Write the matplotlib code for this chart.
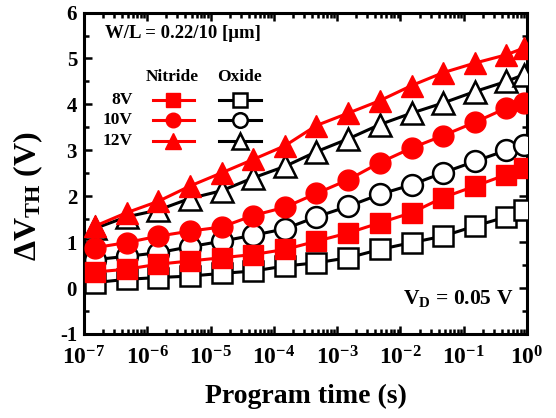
import numpy as np
import matplotlib
matplotlib.use("Agg")
import matplotlib.pyplot as plt
from matplotlib.lines import Line2D
from matplotlib.ticker import LogLocator, MultipleLocator

# ---------------------------------------------------------------------------
# Data (program time in s, delta Vth in V)
# ---------------------------------------------------------------------------
prog_time = [1.5e-7, 4.7e-7, 1.5e-6, 4.7e-6, 1.5e-5, 4.7e-5, 1.5e-4, 4.7e-4,
             1.5e-3, 4.7e-3, 1.5e-2, 4.7e-2, 1.5e-1, 4.7e-1, 0.9]

nitride_8v = [0.35, 0.41, 0.52, 0.59, 0.66, 0.73, 0.84, 1.02, 1.20, 1.42,
              1.64, 1.97, 2.22, 2.47, 2.62]
nitride_10v = [0.88, 0.99, 1.13, 1.24, 1.33, 1.58, 1.76, 2.06, 2.36, 2.73,
               3.05, 3.32, 3.61, 3.92, 4.03]
nitride_12v = [1.35, 1.64, 1.89, 2.22, 2.51, 2.80, 3.10, 3.54, 3.81, 4.08,
               4.41, 4.69, 4.90, 5.08, 5.23]

oxide_8v = [0.12, 0.19, 0.23, 0.26, 0.32, 0.37, 0.48, 0.55, 0.66, 0.84,
            0.99, 1.13, 1.35, 1.55, 1.71]
oxide_10v = [0.62, 0.69, 0.77, 0.90, 1.02, 1.15, 1.29, 1.55, 1.78, 2.04,
             2.25, 2.51, 2.76, 3.00, 3.12]
oxide_12v = [1.30, 1.55, 1.70, 1.95, 2.12, 2.40, 2.65, 2.97, 3.25, 3.56,
             3.81, 4.03, 4.28, 4.50, 4.65]

voltages = ["8V", "10V", "12V"]
markers = ["s", "o", "^"]
marker_sizes = [14, 15, 16]
legend_sizes = [10, 10.5, 12]

RED = "#ff0000"
BLACK = "#000000"

# ---------------------------------------------------------------------------
# Style
# ---------------------------------------------------------------------------
plt.rcParams["font.family"] = ["Liberation Serif", "DejaVu Serif"]
plt.rcParams["font.weight"] = "bold"
plt.rcParams["mathtext.fontset"] = "custom"
plt.rcParams["mathtext.rm"] = "Liberation Serif:bold"
plt.rcParams["mathtext.it"] = "Liberation Serif:bold"
plt.rcParams["mathtext.bf"] = "Liberation Serif:bold"
plt.rcParams["mathtext.default"] = "regular"
plt.rcParams["axes.unicode_minus"] = False

fig = plt.figure(figsize=(5.56, 4.18), dpi=100)
ax = fig.add_axes([0.151, 0.201, 0.797, 0.769])

# ---------------------------------------------------------------------------
# Series: oxide (open black) first, nitride (filled red) on top
# ---------------------------------------------------------------------------
oxide = [oxide_8v, oxide_10v, oxide_12v]
nitride = [nitride_8v, nitride_10v, nitride_12v]

for vals, mk, ms in zip(oxide, markers, marker_sizes):
    ax.plot(prog_time, vals, color=BLACK, lw=2.2, marker=mk, ms=ms,
            mfc="white", mec=BLACK, mew=1.8, zorder=3)
for vals, mk, ms in zip(nitride, markers, marker_sizes):
    ax.plot(prog_time, vals, color=RED, lw=2.2, marker=mk, ms=ms,
            mfc=RED, mec=RED, mew=1.0, zorder=4)

# ---------------------------------------------------------------------------
# Axes
# ---------------------------------------------------------------------------
ax.set_xscale("log")
ax.set_xlim(1e-7, 1e0)
ax.set_ylim(-1, 6)
ax.xaxis.set_major_locator(LogLocator(base=10, numticks=20))
ax.xaxis.set_minor_locator(LogLocator(base=10, subs=np.arange(2, 10), numticks=20))
ax.yaxis.set_major_locator(MultipleLocator(1))
ax.yaxis.set_minor_locator(MultipleLocator(0.5))

for sp in ax.spines.values():
    sp.set_linewidth(2.2)
ax.tick_params(which="both", direction="in", top=True, right=True, width=1.8)
ax.tick_params(which="major", length=6)
ax.tick_params(which="minor", length=3.5)
ax.tick_params(axis="x", which="major", labelsize=17, pad=9)
ax.tick_params(axis="y", which="major", labelsize=15, pad=5)

ax.set_xlabel("Program time (s)", fontsize=20, fontweight="bold", labelpad=10)
ax.set_ylabel("ΔV$_{\\rm TH}$ (V)", fontsize=23, fontweight="bold")
ax.yaxis.set_label_coords(-0.088, 0.43)

# ---------------------------------------------------------------------------
# Annotations
# ---------------------------------------------------------------------------
ax.text(0.048, 0.935, "W/L = 0.22/10 [μm]", transform=ax.transAxes,
        fontsize=13.5, fontweight="bold", ha="left", va="center")
ax.text(0.97, 0.11, "V$_{\\rm D}$ = 0.05 V", transform=ax.transAxes,
        fontsize=15.5, fontweight="bold", ha="right", va="center")

# hand-built 2-column legend (Nitride / Oxide)
ax.text(0.20, 0.80, "Nitride", transform=ax.transAxes, fontsize=12.5,
        fontweight="bold", ha="center", va="center")
ax.text(0.35, 0.80, "Oxide", transform=ax.transAxes, fontsize=12.5,
        fontweight="bold", ha="center", va="center")
row_y = [0.728, 0.666, 0.601]
for lab, mk, ls, yy in zip(voltages, markers, legend_sizes, row_y):
    ax.text(0.11, yy, lab, transform=ax.transAxes, fontsize=12.5,
            fontweight="bold", ha="right", va="center")
    ax.add_line(Line2D([0.156, 0.248], [yy, yy], transform=ax.transAxes,
                       color=RED, lw=2.2, marker=None))
    ax.add_line(Line2D([0.202], [yy], transform=ax.transAxes, color=RED,
                       marker=mk, ms=ls, mfc=RED, mec=RED))
    ax.add_line(Line2D([0.305, 0.400], [yy, yy], transform=ax.transAxes,
                       color=BLACK, lw=2.2))
    ax.add_line(Line2D([0.352], [yy], transform=ax.transAxes, color=BLACK,
                       marker=mk, ms=ls, mfc="white", mec=BLACK, mew=1.8))

fig.savefig("out.png", dpi=100)
